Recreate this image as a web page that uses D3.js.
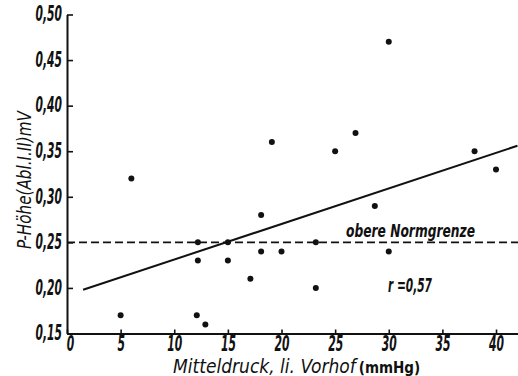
<!DOCTYPE html>
<html>
<head>
<meta charset="utf-8">
<script src="https://cdn.jsdelivr.net/npm/d3@7"></script>
<style>
  body { margin: 0; background: #fff; }
  svg text { font-family: 'Liberation Sans Narrow', 'DejaVu Sans Condensed', sans-serif; font-style: italic; fill: #111; }
</style>
</head>
<body>
<svg id="chart" width="518" height="376"></svg>
<script>
// measurements: mean left atrial pressure (mmHg) vs P wave height (mV)
var druck = [5, 6, 12.1, 12.9, 12.2, 12.2, 15, 15, 17.1, 18.1, 18.1, 19.1, 20, 23.2, 23.2, 25, 26.9, 28.7, 30, 30, 38, 40];
var pHoehe = [0.17, 0.32, 0.17, 0.16, 0.25, 0.23, 0.25, 0.23, 0.21, 0.28, 0.24, 0.36, 0.24, 0.25, 0.20, 0.35, 0.37, 0.29, 0.47, 0.24, 0.35, 0.33];

// regression line end points and upper normal limit
var regX = [1.5, 42];
var regY = [0.198, 0.356];
var normGrenze = 0.25;

var xTicks = [0, 5, 10, 15, 20, 25, 30, 35, 40];
var yTicks = [0.15, 0.20, 0.25, 0.30, 0.35, 0.40, 0.45, 0.50];

var svg = d3.select("#chart");

var x = d3.scaleLinear().domain([0, 42.05]).range([67, 518]),
    y = d3.scaleLinear().domain([0.15, 0.50]).range([333.5, 14.5]);

var fmt = function(d) { return d3.format(".2f")(d).replace(".", ","); };

// squeeze tick text horizontally to look like the narrow drawn lettering
function narrow(sel) {
  sel.each(function() {
    var t = this.textContent, w = 0;
    for (var i = 0; i < t.length; i++) w += (t[i] == "," ? 4 : 7.5);
    var k = w / this.getComputedTextLength();
    var x0 = +d3.select(this).attr("x") || 0;
    d3.select(this).attr("x", x0 / k).attr("transform", "scale(" + k + ",1)");
  });
}

// dashed upper limit
svg.append("line")
    .attr("x1", x(0)).attr("x2", x(42.05))
    .attr("y1", y(normGrenze)).attr("y2", y(normGrenze))
    .attr("stroke", "#111")
    .attr("stroke-width", 1.6)
    .attr("stroke-dasharray", "8,4");

// axes
var xAxis = svg.append("g")
    .attr("transform", "translate(0," + y(0.15) + ")")
    .call(d3.axisBottom(x).tickValues(xTicks).tickSizeInner(-4).tickSizeOuter(0).tickPadding(3).tickFormat(d3.format("d")));

var yAxis = svg.append("g")
    .attr("transform", "translate(" + x(0) + ",0)")
    .call(d3.axisLeft(y).tickValues(yTicks).tickSizeInner(-6).tickSizeOuter(0).tickPadding(5).tickFormat(fmt));

[xAxis, yAxis].forEach(function(ax) {
  ax.select(".domain").attr("stroke", "#111").attr("stroke-width", 2);
  ax.selectAll(".tick line").attr("stroke", "#111").attr("stroke-width", 1.6);
  ax.selectAll(".tick text")
      .attr("fill", "#111")
      .style("font-size", "21px")
      .style("font-style", "italic")
      .style("font-weight", "bold")
      .style("font-family", "'Liberation Sans Narrow', 'DejaVu Sans Condensed', sans-serif");
});
yAxis.selectAll(".tick text").attr("dy", "0.3em");
xAxis.selectAll(".tick text").filter(function(d) { return d === 0; }).attr("x", 3);
xAxis.selectAll(".tick text").call(narrow);
yAxis.selectAll(".tick text").call(narrow);

// regression line
svg.append("line")
    .attr("x1", x(regX[0])).attr("y1", y(regY[0]))
    .attr("x2", x(regX[1])).attr("y2", y(regY[1]))
    .attr("stroke", "#111")
    .attr("stroke-width", 2);

// points
svg.selectAll(".pt")
    .data(druck)
    .enter().append("circle")
      .attr("class", "pt")
      .attr("cx", function(d) { return x(d); })
      .attr("cy", function(d, i) { return y(pHoehe[i]); })
      .attr("r", 3)
      .attr("fill", "#111");

// annotations
svg.append("text")
    .attr("x", 346).attr("y", 237)
    .attr("textLength", 129).attr("lengthAdjust", "spacingAndGlyphs")
    .style("font-size", "17px")
    .style("font-weight", "bold")
    .text("obere Normgrenze");

svg.append("text")
    .attr("x", 388).attr("y", 292)
    .attr("textLength", 44).attr("lengthAdjust", "spacingAndGlyphs")
    .style("font-size", "19px")
    .style("font-weight", "bold")
    .text("r =0,57");

// axis titles
var xt = svg.append("text")
    .attr("x", 173).attr("y", 373)
    .style("font-size", "19px");
xt.append("tspan").text("Mitteldruck, li. Vorhof");
xt.append("tspan")
    .attr("dx", 3)
    .style("font-style", "normal")
    .style("font-weight", "bold")
    .style("font-size", "15px")
    .text("(mmHg)");

svg.append("text")
    .attr("transform", "translate(31,249) rotate(-90)")
    .attr("textLength", 138).attr("lengthAdjust", "spacingAndGlyphs")
    .style("font-size", "19px")
    .text("P-Höhe(Abl.I.II)mV");
</script>
</body>
</html>
